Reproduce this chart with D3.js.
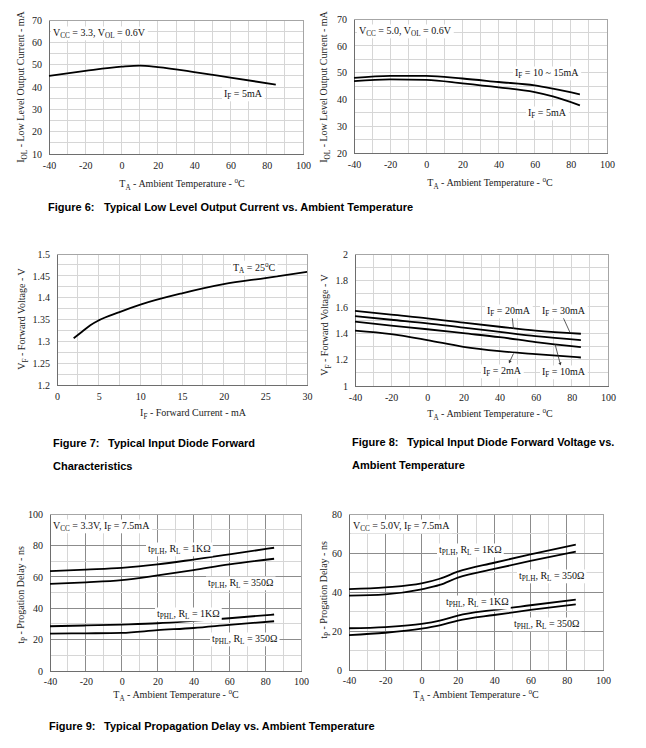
<!DOCTYPE html>
<html>
<head>
<meta charset="utf-8">
<script src="https://cdn.jsdelivr.net/npm/d3@7"></script>
<style>
  body { margin: 0; background: #fff; }
  svg { display: block; }
</style>
</head>
<body>
<div id="sheet"></div>
<script>
// ---- data ----
var tempF6a = [-40, -20, 0, 10, 20, 40, 60, 85];
var iol33_5mA = [45, 47.2, 49.1, 49.6, 48.9, 46.7, 44.2, 41.1];

var tempF6b = [-40, -20, 0, 20, 40, 60, 70, 85];
var iol50_10to15mA = [48, 48.8, 48.8, 47.8, 46.5, 45.2, 44, 41.9];
var iol50_5mA = [46.8, 47.5, 47.3, 46, 44.5, 42.7, 41.1, 37.8];

var ifF7 = [2, 3, 4, 5, 7.5, 10, 15, 20, 25, 30];
var vfF7 = [1.307, 1.322, 1.337, 1.348, 1.367, 1.384, 1.41, 1.431, 1.445, 1.459];

var tempF8 = [-40, -20, 0, 20, 40, 60, 85];
var vf30mA = [1.569, 1.54, 1.513, 1.48, 1.449, 1.419, 1.396];
var vf20mA = [1.53, 1.502, 1.475, 1.442, 1.41, 1.378, 1.348];
var vf10mA = [1.487, 1.458, 1.43, 1.40, 1.37, 1.333, 1.294];
var vf2mA = [1.419, 1.393, 1.348, 1.297, 1.264, 1.241, 1.216];

var tempF9a = [-40, -20, 0, 20, 40, 60, 85];
var tplh1k_33 = [63.6, 64.6, 65.7, 67.9, 71, 74.3, 78.5];
var tplh350_33 = [55.5, 56.5, 57.9, 60.9, 64.3, 67.9, 71.5];
var tphl1k_33 = [28.5, 29, 29.6, 30.4, 31.9, 33.6, 36];
var tphl350_33 = [23.8, 24, 24.3, 26, 27.4, 29.4, 31.7];

var tempF9b = [-40, -20, 0, 10, 20, 40, 60, 85];
var tplh1k_50 = [41.5, 42.4, 44.4, 46.8, 50.4, 55, 59.3, 64.3];
var tplh350_50 = [38.1, 38.8, 41.4, 43.6, 47.4, 51.8, 55.9, 60.7];
var tphl1k_50 = [21.4, 22, 23.6, 25.3, 27.9, 30.8, 33.2, 36.1];
var tphl350_50 = [17.9, 19.1, 21.2, 22.9, 25.3, 28.2, 30.8, 33.7];

var tempTicks = [-40, -20, 0, 20, 40, 60, 80, 100];
var ifTicks = [0, 5, 10, 15, 20, 25, 30];
var iolTicksA = [10, 20, 30, 40, 50, 60, 70];
var iolTicksB = [20, 30, 40, 50, 60, 70];
var vfTicksF7 = [1.2, 1.25, 1.3, 1.35, 1.4, 1.45, 1.5];
var vfTicksF8 = [1, 1.2, 1.4, 1.6, 1.8, 2];
var tpTicksA = [0, 20, 40, 60, 80, 100];
var tpTicksB = [0, 20, 40, 60, 80];

var W = 646, H = 748;
var serif = "'Liberation Serif', 'Times New Roman', serif";
var sans = "'Liberation Sans', Arial, sans-serif";

var svg = d3.select('#sheet').append('svg')
    .attr('width', W)
    .attr('height', H)
    .style('background', '#fff');

// text with _{sub} and ^{sup} pieces
function rich(sel, str, fs) {
    var parts = str.split(/(_\{[^}]*\}|\^\{[^}]*\})/).filter(function(p) { return p !== ''; });
    var shift = 0;
    parts.forEach(function(p) {
        var t = 0, txt = p, size = fs;
        if (p[0] === '_' && p[1] === '{') { t = 0.28 * fs; txt = p.slice(2, -1); size = fs * 0.72; }
        else if (p[0] === '^' && p[1] === '{') { t = -0.38 * fs; txt = p.slice(2, -1); size = fs * 0.72; }
        sel.append('tspan')
            .attr('dy', (t - shift).toFixed(2))
            .attr('font-size', size)
            .text(txt);
        shift = t;
    });
    return sel;
}

function stepRange(a, b, s) {
    var out = [];
    var n = Math.round((b - a) / s);
    for (var i = 0; i <= n; i++) out.push(+(a + i * s).toFixed(4));
    return out;
}

function panel(cfg) {
    var g = svg.append('g');
    var x = d3.scaleLinear().domain(cfg.xDomain).range([cfg.left, cfg.left + cfg.w]);
    var y = d3.scaleLinear().domain(cfg.yDomain).range([cfg.top + cfg.h, cfg.top]);

    // grid
    var gx = stepRange(cfg.xDomain[0], cfg.xDomain[1], cfg.xGrid);
    var gy = stepRange(cfg.yDomain[0], cfg.yDomain[1], cfg.yGrid);
    var isMajor = function(v, step) {
        if (!step) return false;
        var r = Math.abs(v / step - Math.round(v / step));
        return r < 1e-6;
    };
    g.append('g').selectAll('line').data(gx).enter().append('line')
        .attr('x1', d => x(d)).attr('x2', d => x(d))
        .attr('y1', cfg.top).attr('y2', cfg.top + cfg.h)
        .attr('stroke', d => isMajor(d, cfg.xMajor) ? '#8c8c8c' : '#d6d6d6')
        .attr('stroke-width', 1)
        .attr('shape-rendering', 'crispEdges');
    g.append('g').selectAll('line').data(gy).enter().append('line')
        .attr('x1', cfg.left).attr('x2', cfg.left + cfg.w)
        .attr('y1', d => y(d)).attr('y2', d => y(d))
        .attr('stroke', d => isMajor(d, cfg.yMajor) ? '#8c8c8c' : '#d6d6d6')
        .attr('stroke-width', 1)
        .attr('shape-rendering', 'crispEdges');

    g.append('rect')
        .attr('x', cfg.left).attr('y', cfg.top)
        .attr('width', cfg.w).attr('height', cfg.h)
        .attr('fill', 'none').attr('stroke', '#a6a6a6')
        .attr('shape-rendering', 'crispEdges');

    // axes
    var xa = g.append('g')
        .attr('transform', 'translate(0,' + (cfg.top + cfg.h) + ')')
        .call(d3.axisBottom(x).tickValues(cfg.xTicks).tickSize(0).tickPadding(cfg.xPad || 8)
            .tickFormat(d => String(d)));
    var ya = g.append('g')
        .attr('transform', 'translate(' + cfg.left + ',0)')
        .call(d3.axisLeft(y).tickValues(cfg.yTicks).tickSize(0).tickPadding(7)
            .tickFormat(d => String(+d.toFixed(3))));
    [xa, ya].forEach(function(a) {
        a.attr('font-family', serif).attr('font-size', 10);
        a.select('.domain').attr('stroke', '#6e6e6e').attr('shape-rendering', 'crispEdges');
        a.selectAll('text').attr('font-family', serif).attr('font-size', 10).attr('fill', '#222');
    });

    // axis titles
    rich(g.append('text')
        .attr('x', cfg.xTitleX).attr('y', cfg.top + cfg.h + cfg.xTitleDy)
        .attr('text-anchor', 'middle')
        .attr('font-family', serif).attr('font-size', 10).attr('fill', '#222'), cfg.xTitle, 10);
    rich(g.append('text')
        .attr('transform', 'translate(' + cfg.yTitleX + ',' + cfg.yTitleY + ') rotate(-90)')
        .attr('text-anchor', 'middle')
        .attr('font-family', serif).attr('font-size', 10).attr('fill', '#222'), cfg.yTitle, 10);

    // curves
    var line = d3.line().curve(d3.curveMonotoneX);
    cfg.series.forEach(function(s) {
        var pts = s.x.map((v, i) => [x(v), y(s.y[i])]);
        g.append('path')
            .attr('d', line(pts))
            .attr('fill', 'none')
            .attr('stroke', '#000')
            .attr('stroke-width', 1.8);
    });

    // leader lines
    (cfg.leaders || []).forEach(function(l) {
        g.append('line')
            .attr('x1', l[0]).attr('y1', l[1]).attr('x2', l[2]).attr('y2', l[3])
            .attr('stroke', '#333').attr('stroke-width', 0.8)
            .attr('marker-start', 'url(#arrow)');
    });

    // annotations on white boxes
    (cfg.notes || []).forEach(function(n) {
        var t = g.append('text')
            .attr('x', n[1]).attr('y', n[2] + 3.5)
            .attr('font-family', serif).attr('font-size', 10).attr('fill', '#111');
        rich(t, n[0], 10);
        var bb = t.node().getBBox();
        g.insert('rect', function() { return t.node(); })
            .attr('x', bb.x - 2).attr('y', bb.y)
            .attr('width', bb.width + 4).attr('height', bb.height)
            .attr('fill', '#fff');
    });
}

svg.append('defs').append('marker')
    .attr('id', 'arrow')
    .attr('viewBox', '0 0 6 6')
    .attr('refX', 1).attr('refY', 3)
    .attr('markerWidth', 4).attr('markerHeight', 4)
    .attr('orient', 'auto-start-reverse')
    .append('path').attr('d', 'M0,0 L6,3 L0,6 Z').attr('fill', '#333');

var tempTitle = 'T_{A} - Ambient Temperature - ^{o}C';

// Figure 6 left
panel({
    left: 49, top: 20, w: 254, h: 134,
    xDomain: [-40, 100], yDomain: [10, 70],
    xTicks: tempTicks, yTicks: iolTicksA, xGrid: 10, yGrid: 5,
    xTitle: tempTitle, xTitleX: 182, xTitleDy: 33,
    yTitle: 'I_{OL} - Low Level Output Current - mA', yTitleX: 24, yTitleY: 87,
    series: [{ x: tempF6a, y: iol33_5mA }],
    notes: [['V_{CC} = 3.3, V_{OL} = 0.6V', 53, 32], ['I_{F} = 5mA', 224, 93]]
});

// Figure 6 right
panel({
    left: 354, top: 19, w: 253, h: 134,
    xDomain: [-40, 100], yDomain: [20, 70],
    xTicks: tempTicks, yTicks: iolTicksB, xGrid: 10, yGrid: 5,
    xTitle: tempTitle, xTitleX: 490, xTitleDy: 33,
    yTitle: 'I_{OL} - Low Level Output Current - mA', yTitleX: 327, yTitleY: 87,
    series: [{ x: tempF6b, y: iol50_10to15mA }, { x: tempF6b, y: iol50_5mA }],
    notes: [['V_{CC} = 5.0, V_{OL} = 0.6V', 359, 30], ['I_{F} = 10 ~ 15mA', 515, 72], ['I_{F} = 5mA', 528, 112]]
});

// Figure 7
panel({
    left: 57, top: 254, w: 250, h: 131,
    xDomain: [0, 30], yDomain: [1.2, 1.5],
    xTicks: ifTicks, yTicks: vfTicksF7, xGrid: 2.5, yGrid: 0.025,
    xTitle: 'I_{F} - Forward Current - mA', xTitleX: 193, xTitleDy: 31,
    yTitle: 'V_{F} - Forward Voltage - V', yTitleX: 25, yTitleY: 319,
    series: [{ x: ifF7, y: vfF7 }],
    notes: [['T_{A} = 25^{o}C', 233, 267]]
});

// Figure 8
panel({
    left: 355, top: 254, w: 253, h: 132,
    xDomain: [-40, 100], yDomain: [1, 2],
    xTicks: tempTicks, yTicks: vfTicksF8, xGrid: 10, yGrid: 0.1,
    xTitle: tempTitle, xTitleX: 490, xTitleDy: 31,
    yTitle: 'V_{F} - Forward Voltage - V', yTitleX: 328, yTitleY: 325,
    series: [{ x: tempF8, y: vf30mA }, { x: tempF8, y: vf20mA }, { x: tempF8, y: vf10mA }, { x: tempF8, y: vf2mA }],
    leaders: [[512, 315, 513.5, 329], [562, 315, 570, 332.5], [510, 361, 513.5, 353.5], [560, 363, 555, 344]],
    notes: [['I_{F} = 20mA', 487, 310], ['I_{F} = 30mA', 542, 310], ['I_{F} = 2mA', 483, 370], ['I_{F} = 10mA', 542, 371]]
});

// Figure 9 left
panel({
    left: 50, top: 514, w: 251, h: 157,
    xDomain: [-40, 100], yDomain: [0, 100],
    xTicks: tempTicks, yTicks: tpTicksA, xGrid: 10, yGrid: 10, xMajor: 20, yMajor: 20, xPad: 7,
    xTitle: tempTitle, xTitleX: 176, xTitleDy: 27,
    yTitle: 't_{P} - Progation Delay - ns', yTitleX: 24, yTitleY: 595,
    series: [{ x: tempF9a, y: tplh1k_33 }, { x: tempF9a, y: tplh350_33 }, { x: tempF9a, y: tphl1k_33 }, { x: tempF9a, y: tphl350_33 }],
    notes: [['V_{CC} = 3.3V, I_{F} = 7.5mA', 53, 525],
        ['t_{PLH}, R_{L} = 1KΩ', 148, 548], ['t_{PLH}, R_{L} = 350Ω', 208, 582],
        ['t_{PHL}, R_{L} = 1KΩ', 157, 613], ['t_{PHL}, R_{L} = 350Ω', 212, 638]]
});

// Figure 9 right
panel({
    left: 349, top: 514, w: 254, h: 156,
    xDomain: [-40, 100], yDomain: [0, 80],
    xTicks: tempTicks, yTicks: tpTicksB, xGrid: 10, yGrid: 10, xMajor: 20, yMajor: 20, xPad: 7,
    xTitle: tempTitle, xTitleX: 476, xTitleDy: 28,
    yTitle: 't_{P} - Progation Delay - ns', yTitleX: 327, yTitleY: 590,
    series: [{ x: tempF9b, y: tplh1k_50 }, { x: tempF9b, y: tplh350_50 }, { x: tempF9b, y: tphl1k_50 }, { x: tempF9b, y: tphl350_50 }],
    notes: [['V_{CC} = 5.0V, I_{F} = 7.5mA', 353, 525],
        ['t_{PLH}, R_{L} = 1KΩ', 439, 549], ['t_{PLH}, R_{L} = 350Ω', 519, 575],
        ['t_{PHL}, R_{L} = 1KΩ', 446, 601], ['t_{PHL}, R_{L} = 350Ω', 514, 623]]
});

// captions
var captions = [
    ['Figure 6:', 48, 'Typical Low Level Output Current vs. Ambient Temperature', 104, 207],
    ['Figure 7:', 53, 'Typical Input Diode Forward', 108, 443],
    ['', 53, 'Characteristics', 53, 466],
    ['Figure 8:', 352, 'Typical Input Diode Forward Voltage vs.', 407, 442],
    ['', 352, 'Ambient Temperature', 352, 465],
    ['Figure 9:', 49, 'Typical Propagation Delay vs. Ambient Temperature', 104, 726]
];
captions.forEach(function(c) {
    [[c[0], c[1]], [c[2], c[3]]].forEach(function(p) {
        if (!p[0]) return;
        svg.append('text')
            .attr('x', p[1]).attr('y', c[4] + 4)
            .attr('font-family', sans).attr('font-weight', 'bold')
            .attr('font-size', 11).attr('fill', '#000')
            .text(p[0]);
    });
});
</script>
</body>
</html>
